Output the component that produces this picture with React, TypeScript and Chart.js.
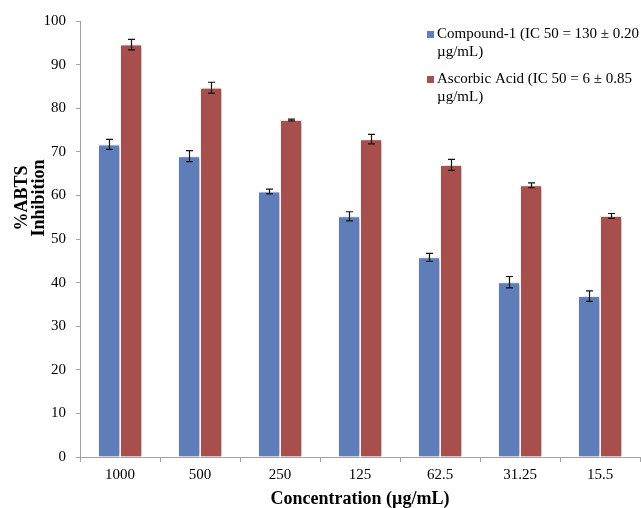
import { useEffect, useRef } from 'react';
import { Chart, registerables } from 'chart.js';

Chart.register(...registerables);

// Concentrations tested (µg/mL) and mean % ABTS inhibition ± SD
const concentrations = ['1000', '500', '250', '125', '62.5', '31.25', '15.5'];
const compoundValues = [71.7, 69.0, 60.9, 55.2, 45.8, 40.1, 36.9];
const compoundErrors = [1.15, 1.25, 0.55, 1.05, 0.9, 1.3, 1.2];
const ascorbicValues = [94.6, 84.7, 77.3, 72.9, 67.0, 62.3, 55.3];
const ascorbicErrors = [1.2, 1.25, 0.2, 1.1, 1.25, 0.55, 0.55];

const seriesNames = ['Compound-1', 'Ascorbic Acid'];
const legendLines = [
  ['Compound-1 (IC 50 = 130 ± 0.20', 'µg/mL)'],
  ['Ascorbic Acid (IC 50 = 6 ± 0.85', 'µg/mL)'],
];
const yTitleLines = ['%ABTS', 'Inhibition'];
const xTitle = 'Concentration (µg/mL)';

const BLUE = '#5F7EB9';
const RED = '#A84F4E';
const AXIS = '#a3a3a3';
const SERIF = "'Liberation Serif', 'Times New Roman', serif";

const errorSets = [compoundErrors, ascorbicErrors];

const decorPlugin = {
  id: 'decor',
  beforeDatasetsDraw(chart: any) {
    const ctx = chart.ctx;
    ctx.save();
    ctx.shadowColor = 'rgba(0,0,0,0.28)';
    ctx.shadowBlur = 4;
    ctx.shadowOffsetX = 1.5;
    ctx.shadowOffsetY = 0.5;
  },
  afterDatasetsDraw(chart: any) {
    const ctx = chart.ctx;
    ctx.restore();
    // error bars
    const yScale = chart.scales.y;
    ctx.save();
    ctx.strokeStyle = '#111';
    ctx.lineWidth = 1.2;
    chart.data.datasets.forEach((ds: any, di: number) => {
      const meta = chart.getDatasetMeta(di);
      meta.data.forEach((bar: any, i: number) => {
        const v = ds.data[i];
        const e = errorSets[di][i];
        const x = Math.round(bar.x) + 0.5;
        const yTop = yScale.getPixelForValue(v + e);
        const yBot = yScale.getPixelForValue(v - e);
        const cap = 3.5;
        ctx.beginPath();
        ctx.moveTo(x, yTop);
        ctx.lineTo(x, yBot);
        ctx.moveTo(x - cap, yTop);
        ctx.lineTo(x + cap, yTop);
        ctx.moveTo(x - cap, yBot);
        ctx.lineTo(x + cap, yBot);
        ctx.stroke();
      });
    });
    ctx.restore();
  },
  afterDraw(chart: any) {
    const ctx = chart.ctx;
    const area = chart.chartArea;
    ctx.save();
    ctx.fillStyle = '#000';

    // x axis title
    ctx.font = `bold 18px ${SERIF}`;
    ctx.textAlign = 'center';
    ctx.textBaseline = 'middle';
    ctx.fillText(xTitle, (area.left + area.right) / 2, 499);

    // y axis title (two rotated lines)
    ctx.save();
    ctx.translate(0, 198);
    ctx.rotate(-Math.PI / 2);
    ctx.fillText(yTitleLines[0], 0, 22);
    ctx.fillText(yTitleLines[1], 0, 39);
    ctx.restore();

    // legend
    const colors = [BLUE, RED];
    const rowTops = [34, 79];
    ctx.font = `15px ${SERIF}`;
    ctx.textAlign = 'left';
    legendLines.forEach((lines, k) => {
      const y0 = rowTops[k];
      ctx.fillStyle = colors[k];
      ctx.fillRect(427, y0 - 3, 7, 7);
      ctx.fillStyle = '#000';
      lines.forEach((t, j) => ctx.fillText(t, 437, y0 + j * 18.5));
    });
    ctx.restore();
  },
};

export default function App() {
  const canvasRef = useRef<HTMLCanvasElement | null>(null);

  useEffect(() => {
    const canvas = canvasRef.current;
    if (!canvas) return;
    const chart = new Chart(canvas, {
      type: 'bar',
      data: {
        labels: concentrations,
        datasets: [
          {
            label: seriesNames[0],
            data: compoundValues,
            backgroundColor: BLUE,
            borderColor: 'rgba(255,255,255,0.85)',
            borderWidth: 1,
            categoryPercentage: 0.55,
            barPercentage: 1,
          },
          {
            label: seriesNames[1],
            data: ascorbicValues,
            backgroundColor: RED,
            borderColor: 'rgba(255,255,255,0.85)',
            borderWidth: 1,
            categoryPercentage: 0.55,
            barPercentage: 1,
          },
        ],
      },
      options: {
        responsive: false,
        animation: false,
        devicePixelRatio: 1,
        layout: { padding: { top: 21, right: 1, left: 0, bottom: 0 } },
        plugins: {
          legend: { display: false },
          tooltip: { enabled: false },
          title: { display: false },
        },
        scales: {
          x: {
            grid: {
              display: true,
              drawOnChartArea: false,
              drawTicks: true,
              tickLength: 5,
              color: AXIS,
              offset: true,
            },
            border: { display: true, color: AXIS, width: 1 },
            ticks: {
              color: '#000',
              font: { family: SERIF, size: 15 },
              padding: 4,
              maxRotation: 0,
            },
            afterFit(scale: any) {
              scale.height = 51;
            },
          },
          y: {
            min: 0,
            max: 100,
            grid: {
              display: true,
              drawOnChartArea: false,
              drawTicks: true,
              tickLength: 4,
              color: AXIS,
            },
            border: { display: true, color: AXIS, width: 1 },
            ticks: {
              stepSize: 10,
              color: '#000',
              font: { family: SERIF, size: 15 },
              padding: 10,
            },
            afterFit(scale: any) {
              scale.width = 80;
            },
          },
        },
      },
      plugins: [decorPlugin],
    });
    return () => chart.destroy();
  }, []);

  return (
    <div style={{ position: 'absolute', left: 0, top: 0, width: 641, height: 508, background: '#fff' }}>
      <canvas ref={canvasRef} width={641} height={508} style={{ display: 'block' }} />
    </div>
  );
}
